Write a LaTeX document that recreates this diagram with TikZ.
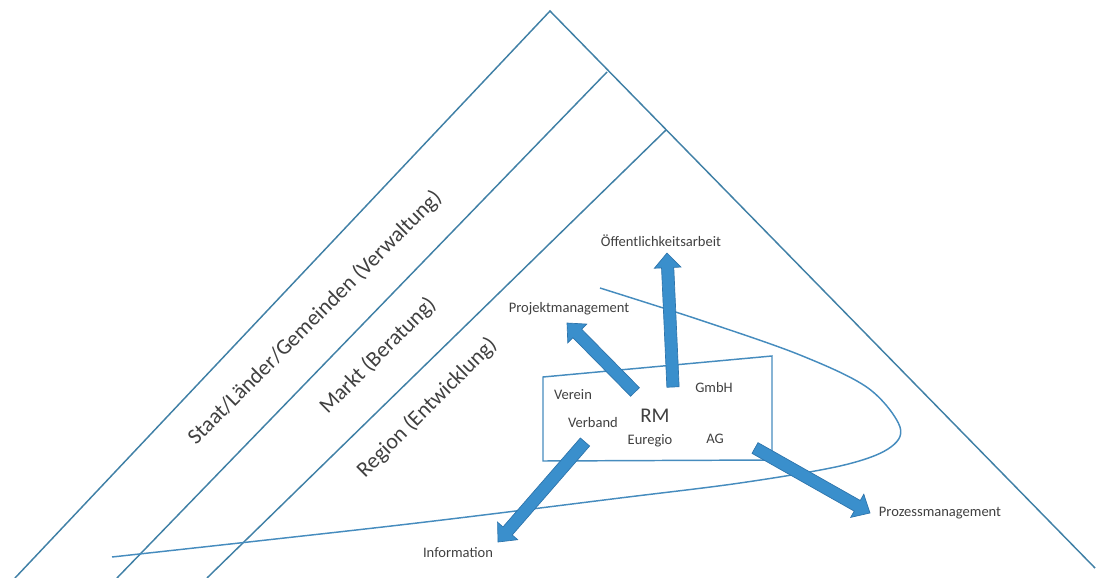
\documentclass[tikz,border=0pt]{standalone}
\usepackage{fontspec}
\setmainfont{Carlito}
\usetikzlibrary{calc}
\definecolor{linec}{RGB}{64,128,166}
\definecolor{boxc}{RGB}{70,140,190}
\definecolor{arrfill}{RGB}{58,143,204}
\definecolor{arrline}{RGB}{45,115,170}
\definecolor{txt}{RGB}{64,64,64}
\newcommand\myfatarrow[2]{%
  \coordinate (fahead) at ($(#2)!11pt!(#1)$);
  \filldraw[fatarrow] ($(#1)!4.6pt!90:(#2)$) -- ($(fahead)!4.6pt!-90:(#1)$) -- ($(fahead)!10pt!-90:(#1)$) -- (#2) -- ($(fahead)!10pt!90:(#1)$) -- ($(fahead)!4.6pt!90:(#1)$) -- ($(#1)!4.6pt!-90:(#2)$) -- cycle;}
\begin{document}
\begin{tikzpicture}[x=0.75pt,y=-0.75pt,
  layer/.style={draw=linec, line width=1.1pt},
  frame/.style={draw=boxc, line width=1.1pt},
  fatarrow/.style={fill=arrfill, draw=arrline, line width=0.5pt, line join=miter},
  lbl/.style={text=txt, font=\fontsize{10.9}{12}\selectfont, inner sep=1pt},
  big/.style={text=txt, font=\fontsize{16.5}{18}\selectfont, inner sep=1pt, rotate=45}]
\useasboundingbox (0,0) rectangle (1097,578);
% layers
\coordinate (apexA) at (550,11);
\coordinate (apexB) at (607,72);
\coordinate (apexC) at (666,130);
\coordinate (footA) at (15,578);
\coordinate (footB) at (117,578);
\coordinate (footC) at (207,578);
\coordinate (footR) at (1095,568);
\draw[layer] (footA) -- (apexA) -- (footR);
\draw[layer] (footB) -- (apexB);
\draw[layer] (footC) -- (apexC);
% curve
\draw[frame] plot[smooth, tension=0.55] coordinates {(600,288) (700,320) (800,355) (868,388) (900,427) (888,449) (840,466) (740,483) (620,498) (400,525) (112,557)};
% box
\draw[frame] (543,377) -- (772,356) -- (772,460) -- (543,461) -- cycle;
% arrows
\coordinate (tP) at (635,392); \coordinate (hP) at (567,323);
\coordinate (tO) at (673,387); \coordinate (hO) at (667,253);
\coordinate (tI) at (585,442); \coordinate (hI) at (498,542);
\coordinate (tZ) at (755,448); \coordinate (hZ) at (870,513);
\myfatarrow{tP}{hP}
\myfatarrow{tO}{hO}
\myfatarrow{tI}{hI}
\myfatarrow{tZ}{hZ}
% labels
\node[big] (staat) at (315,318) {Staat/Länder/Gemeinden (Verwaltung)};
\node[big] (markt) at (378,356) {Markt (Beratung)};
\node[big] (region) at (427,408) {Region (Entwicklung)};
\node[lbl] (oeff) at (661,241) {Öffentlichkeitsarbeit};
\node[lbl] (projekt) at (569,309) {Projektmanagement};
\node[lbl] (info) at (458,553) {Information};
\node[lbl] (prozess) at (940,513) {Prozessmanagement};
\node[lbl] (verein) at (573,395) {Verein};
\node[lbl] (verband) at (593,423) {Verband};
\node[text=txt, font=\fontsize{15.7}{17}\selectfont, inner sep=1pt] (rm) at (655,416) {RM};
\node[lbl] (euregio) at (650,441) {Euregio};
\node[lbl] (gmbh) at (714,388) {GmbH};
\node[lbl] (ag) at (715,439) {AG};
\end{tikzpicture}
\end{document}
